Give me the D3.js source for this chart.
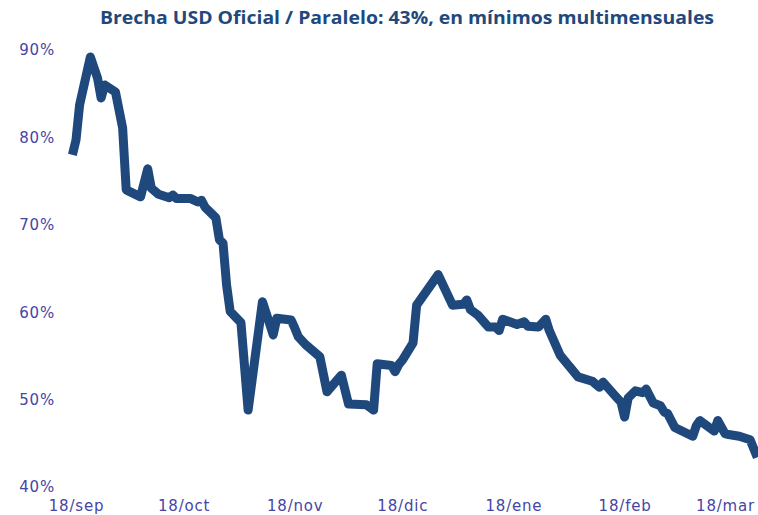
<!DOCTYPE html>
<html>
<head>
<meta charset="utf-8">
<script src="https://cdn.jsdelivr.net/npm/d3@7"></script>
<style>
  body { margin: 0; background: #fff; }
</style>
</head>
<body>
<div id="chart"></div>
<script>
const title = "Brecha USD Oficial / Paralelo: 43%, en mínimos multimensuales";

const dates = [
  "2020-09-17", "2020-09-18", "2020-09-19", "2020-09-22", "2020-09-24", "2020-09-25", "2020-09-26", "2020-09-29",
  "2020-10-01", "2020-10-02", "2020-10-06", "2020-10-08", "2020-10-09", "2020-10-11", "2020-10-14", "2020-10-15",
  "2020-10-16", "2020-10-20", "2020-10-22", "2020-10-23", "2020-10-24", "2020-10-27", "2020-10-28", "2020-10-29",
  "2020-10-30", "2020-10-31", "2020-11-03", "2020-11-05", "2020-11-09", "2020-11-12", "2020-11-13", "2020-11-17",
  "2020-11-18", "2020-11-19", "2020-11-21", "2020-11-25", "2020-11-27", "2020-12-01", "2020-12-03", "2020-12-08",
  "2020-12-10", "2020-12-11", "2020-12-15", "2020-12-16", "2020-12-17", "2020-12-18", "2020-12-21", "2020-12-22",
  "2020-12-28", "2021-01-01", "2021-01-04", "2021-01-05", "2021-01-06", "2021-01-08", "2021-01-11", "2021-01-13",
  "2021-01-14", "2021-01-15", "2021-01-19", "2021-01-21", "2021-01-22", "2021-01-25", "2021-01-27", "2021-01-28",
  "2021-01-31", "2021-02-03", "2021-02-05", "2021-02-09", "2021-02-11", "2021-02-12", "2021-02-15", "2021-02-17",
  "2021-02-18", "2021-02-19", "2021-02-21", "2021-02-23", "2021-02-24", "2021-02-26", "2021-02-28", "2021-03-01",
  "2021-03-02", "2021-03-04", "2021-03-09", "2021-03-10", "2021-03-11", "2021-03-15", "2021-03-16", "2021-03-18",
  "2021-03-19", "2021-03-22", "2021-03-25", "2021-03-27"
];

const brecha = [
  78.0, 79.7, 83.7, 89.2, 86.8, 84.5, 86.0, 85.2,
  81.1, 74.0, 73.2, 76.4, 74.2, 73.5, 73.1, 73.4,
  73.0, 73.0, 72.6, 72.8, 72.0, 70.8, 68.3, 67.9,
  63.1, 60.1, 58.8, 48.8, 61.2, 57.4, 59.3, 59.1,
  58.2, 57.2, 56.3, 54.9, 50.9, 52.8, 49.5, 49.4,
  48.8, 54.1, 53.9, 53.2, 54.0, 54.5, 56.5, 60.8,
  64.3, 60.8, 60.9, 61.4, 60.3, 59.7, 58.3, 58.3,
  57.9, 59.2, 58.6, 58.9, 58.4, 58.3, 59.2, 57.9,
  55.1, 53.6, 52.6, 52.1, 51.4, 52.0, 50.6, 49.7,
  48.0, 50.2, 51.0, 50.8, 51.2, 49.6, 49.3, 48.6,
  48.4, 46.8, 45.8, 47.0, 47.6, 46.4, 47.6, 46.1,
  46.0, 45.8, 45.4, 43.4
];

const xTickDates = ["2020-09-18", "2020-10-18", "2020-11-18", "2020-12-18", "2021-01-18", "2021-02-18", "2021-03-18"];
const xTickLabels = ["18/sep", "18/oct", "18/nov", "18/dic", "18/ene", "18/feb", "18/mar"];
const yTicks = [40, 50, 60, 70, 80, 90];

const width = 758, height = 515;
const parse = d3.timeParse("%Y-%m-%d");
const data = dates.map((d, i) => ({ date: parse(d), value: brecha[i] }));

const svg = d3.select("#chart")
  .append("svg")
  .attr("width", width)
  .attr("height", height);

const x = d3.scaleTime()
  .domain([parse("2020-09-18"), parse("2021-03-18")])
  .range([76, 725]);

const y = d3.scaleLinear()
  .domain([40, 90])
  .range([487, 50]);

svg.append("text")
  .attr("x", 407)
  .attr("y", 24)
  .attr("text-anchor", "middle")
  .attr("textLength", 614)
  .attr("lengthAdjust", "spacingAndGlyphs")
  .style("font-family", "'Open Sans', 'Liberation Sans', sans-serif")
  .style("font-weight", "700")
  .style("font-size", "17px")
  .style("fill", "#1f497d")
  .text(title);

const yAxis = svg.append("g")
  .attr("transform", "translate(55,0)")
  .call(d3.axisLeft(y).tickValues(yTicks).tickSize(0).tickPadding(0).tickFormat(d => d + "%"));
yAxis.select(".domain").remove();
yAxis.selectAll("text")
  .style("font-family", "'DejaVu Sans', sans-serif")
  .style("font-size", "15px")
  .style("letter-spacing", "0.8px")
  .style("fill", "#4545a5");

const xAxis = svg.append("g")
  .attr("transform", "translate(0,500)")
  .call(d3.axisBottom(x).tickValues(xTickDates.map(parse)).tickSize(0).tickPadding(0)
    .tickFormat((d, i) => xTickLabels[i]));
xAxis.select(".domain").remove();
xAxis.selectAll("text")
  .style("font-family", "'DejaVu Sans', sans-serif")
  .style("font-size", "15px")
  .style("letter-spacing", "0.8px")
  .style("fill", "#4545a5");

const line = d3.line()
  .x(d => x(d.date))
  .y(d => y(d.value));

svg.append("path")
  .datum(data)
  .attr("d", line)
  .attr("fill", "none")
  .attr("stroke", "#1f497d")
  .attr("stroke-width", 9)
  .attr("stroke-linejoin", "round")
  .attr("stroke-linecap", "butt");
</script>
</body>
</html>
